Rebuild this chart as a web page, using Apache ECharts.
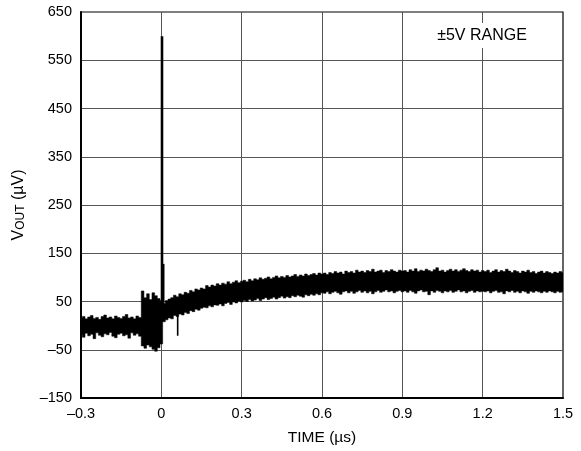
<!DOCTYPE html>
<html>
<head>
<meta charset="utf-8">
<script src="https://cdn.jsdelivr.net/npm/echarts@6/dist/echarts.min.js"></script>
<style>
  html, body { margin: 0; padding: 0; background: #fff; }
  #chart { width: 581px; height: 451px; }
</style>
</head>
<body>
<div id="chart"></div>
<script>
// Sample times of the settling record (µs)
const timeUs = [
  -0.30, -0.29, -0.28, -0.27, -0.26, -0.25, -0.24, -0.23, -0.22, -0.21,
  -0.20, -0.19, -0.18, -0.17, -0.16, -0.15, -0.14, -0.13, -0.12, -0.11,
  -0.10, -0.09, -0.08, -0.07, -0.06, -0.05, -0.04, -0.03, -0.02, -0.01,
  0.00, 0.01, 0.02, 0.03, 0.04, 0.05, 0.06, 0.07, 0.08, 0.09,
  0.10, 0.11, 0.12, 0.13, 0.14, 0.15, 0.16, 0.17, 0.18, 0.19,
  0.20, 0.21, 0.22, 0.23, 0.24, 0.25, 0.26, 0.27, 0.28, 0.29,
  0.30, 0.31, 0.32, 0.33, 0.34, 0.35, 0.36, 0.37, 0.38, 0.39,
  0.40, 0.41, 0.42, 0.43, 0.44, 0.45, 0.46, 0.47, 0.48, 0.49,
  0.50, 0.51, 0.52, 0.53, 0.54, 0.55, 0.56, 0.57, 0.58, 0.59,
  0.60, 0.61, 0.62, 0.63, 0.64, 0.65, 0.66, 0.67, 0.68, 0.69,
  0.70, 0.71, 0.72, 0.73, 0.74, 0.75, 0.76, 0.77, 0.78, 0.79,
  0.80, 0.81, 0.82, 0.83, 0.84, 0.85, 0.86, 0.87, 0.88, 0.89,
  0.90, 0.91, 0.92, 0.93, 0.94, 0.95, 0.96, 0.97, 0.98, 0.99,
  1.00, 1.01, 1.02, 1.03, 1.04, 1.05, 1.06, 1.07, 1.08, 1.09,
  1.10, 1.11, 1.12, 1.13, 1.14, 1.15, 1.16, 1.17, 1.18, 1.19,
  1.20, 1.21, 1.22, 1.23, 1.24, 1.25, 1.26, 1.27, 1.28, 1.29,
  1.30, 1.31, 1.32, 1.33, 1.34, 1.35, 1.36, 1.37, 1.38, 1.39,
  1.40, 1.41, 1.42, 1.43, 1.44, 1.45, 1.46, 1.47, 1.48, 1.49,
  1.50
];

// Upper edge of the noise band at each sample (µV)
const upperUv = [
  16, 19, 14, 18, 21, 15, 17, 13, 19, 22,
  16, 18, 14, 20, 17, 15, 19, 23, 16, 18,
  14, 20, 17,
  72, 58, 66, 54, 68, 62, 56, 52,
  46, 52, 55, 58, 63, 60, 66, 64, 69, 67,
  73, 70, 76, 74, 78, 76, 83, 80, 84, 82,
  87, 84, 88, 86, 91, 87, 90, 93, 89, 92,
  94, 91, 96, 93, 97, 95, 99, 96, 98, 101,
  97, 100, 103, 99, 102, 100, 104, 101, 103, 106,
  102, 105, 103, 107, 104, 106, 108, 105, 109, 107,
  109, 106, 110, 108, 112, 109, 111, 107, 113, 110,
  112, 109, 115, 111, 113, 110, 114, 112, 117, 111,
  113, 115, 110, 114, 112, 116, 113, 111, 115, 113,
  114, 111, 116, 113, 118, 112, 115, 113, 117, 114,
  112, 116, 120, 113, 115, 111, 114, 117, 113, 116,
  112, 115, 118, 114, 112, 116, 113, 115, 111, 114,
  112, 115, 110, 113, 116, 111, 114, 112, 117, 113,
  110, 114, 112, 109, 113, 111, 115, 110, 112, 108,
  111, 113, 109, 112, 110, 108, 111, 109, 112, 110
];

// Lower edge of the noise band at each sample (µV)
const lowerUv = [
  -19, -24, -16, -21, -18, -27, -15, -20, -23, -17,
  -19, -14, -22, -25, -18, -16, -21, -19, -26, -15,
  -20, -17, -22,
  -42, -47, -40, -44, -49, -53, -46, -38,
  8, 12, 16, 14, 21, 19, 24, 22, 27, 25,
  31, 29, 34, 32, 36, 38, 37, 41, 39, 43,
  42, 45, 41, 46, 48, 44, 49, 47, 51, 49,
  52, 50, 54, 51, 53, 56, 52, 55, 58, 54,
  56, 59, 55, 58, 61, 57, 60, 58, 62, 60,
  63, 61, 59, 64, 62, 65, 63, 66, 64, 68,
  67, 70, 66, 69, 71, 68, 65, 70, 72, 68,
  71, 67, 70, 73, 69, 72, 68, 71, 66, 70,
  73, 69, 71, 74, 70, 72, 68, 71, 73, 70,
  72, 69, 73, 70, 67, 72, 74, 70, 71, 64,
  72, 69, 73, 71, 68, 72, 70, 73, 69, 71,
  74, 70, 72, 68, 71, 73, 69, 72, 70, 71,
  70, 72, 68, 71, 73, 69, 70, 66, 72, 70,
  73, 69, 71, 68, 72, 70, 67, 71, 69, 72,
  70, 68, 71, 69, 72, 70, 68, 71, 69, 70
];

// Narrow glitches around the code transition
const spikeTimeUs = [0.0025, 0.0088, 0.061];
const spikeLowUv = [30, 30, -21];
const spikeHighUv = [600, 128, 28];

// Axis tick labels
const xTickLabels = ['\u20130.3', '0', '0.3', '0.6', '0.9', '1.2', '1.5'];
const yTickLabels = ['\u2013150', '\u201350', '50', '150', '250', '350', '450', '550', '650'];

const FONT = '"Liberation Sans", Arial, Helvetica, sans-serif';
const HALF_STEP = 0.005;

// Builds the outline of the noise band as one stepped polygon:
// along the upper edge left to right, then back along the lower edge.
function bandOutline(api) {
  const pts = [];
  for (let i = 0; i < timeUs.length; i++) {
    pts.push(api.coord([timeUs[i] - HALF_STEP, upperUv[i]]));
    pts.push(api.coord([timeUs[i] + HALF_STEP, upperUv[i]]));
  }
  for (let i = timeUs.length - 1; i >= 0; i--) {
    pts.push(api.coord([timeUs[i] + HALF_STEP, lowerUv[i]]));
    pts.push(api.coord([timeUs[i] - HALF_STEP, lowerUv[i]]));
  }
  return pts;
}

const chart = echarts.init(document.getElementById('chart'), null, { renderer: 'canvas' });

chart.setOption({
  animation: false,
  backgroundColor: '#fff',
  grid: {
    left: 81, right: 18, top: 12, bottom: 53,
    show: true, borderColor: '#000', borderWidth: 1.2, backgroundColor: '#fff'
  },
  xAxis: {
    type: 'value', min: -0.3, max: 1.5, interval: 0.3,
    axisLine: { show: true, onZero: false, lineStyle: { color: '#000', width: 2 } },
    axisTick: { show: false },
    axisLabel: {
      margin: 8, color: '#000', fontSize: 14.5, fontFamily: FONT,
      formatter: v => xTickLabels[Math.round((v + 0.3) / 0.3)] || ''
    },
    splitLine: { show: true, showMinLine: false, showMaxLine: false, lineStyle: { color: '#555', width: 1 } },
    name: 'TIME (\u00b5s)', nameLocation: 'middle', nameGap: 32,
    nameTextStyle: { color: '#000', fontSize: 15.5, fontFamily: FONT }
  },
  yAxis: {
    type: 'value', min: -150, max: 650, interval: 50,
    axisLine: { show: true, onZero: false, lineStyle: { color: '#000', width: 2 } },
    axisTick: { show: false },
    axisLabel: {
      margin: 9, color: '#000', fontSize: 14.5, fontFamily: FONT,
      formatter: v => {
        const k = Math.round((v + 150) / 50);
        return k % 2 === 0 ? (yTickLabels[k / 2] || '') : '';
      }
    },
    splitLine: {
      show: true, showMaxLine: false,
      lineStyle: { color: ['#555', 'rgba(0,0,0,0)'], width: 1 }
    },
    name: '{v|V}{s|OUT}{n| (\u00b5V)}', nameLocation: 'middle', nameGap: 54,
    nameTextStyle: {
      color: '#000', fontFamily: FONT,
      rich: {
        v: { fontSize: 16, fontFamily: FONT, color: '#000', verticalAlign: 'bottom' },
        s: { fontSize: 12, fontFamily: FONT, color: '#000', verticalAlign: 'bottom' },
        n: { fontSize: 16, fontFamily: FONT, color: '#000', verticalAlign: 'bottom' }
      }
    }
  },
  graphic: [
    {
      type: 'rect', z: 100, silent: true,
      shape: { x: 433, y: 23, width: 98, height: 25 },
      style: { fill: '#fff' }
    },
    {
      type: 'text', z: 101, silent: true, x: 482, y: 35.5,
      style: {
        text: '\u00b15V RANGE', fill: '#000',
        font: '16px "Liberation Sans", Arial, sans-serif',
        align: 'center', verticalAlign: 'middle'
      }
    }
  ],
  series: [
    {
      // Noise band: a single filled outline built from every sample
      type: 'custom', clip: true, silent: true,
      data: timeUs.map((t, i) => [t, lowerUv[i], upperUv[i]]),
      encode: { x: 0, y: [1, 2] },
      renderItem: (params, api) => {
        if (params.dataIndex !== 0) return null;
        return {
          type: 'polygon',
          shape: { points: bandOutline(api) },
          style: { fill: '#000', stroke: '#000', lineWidth: 0.5 }
        };
      }
    },
    {
      // Transition glitches drawn as thin vertical strokes
      type: 'custom', clip: true, silent: true,
      data: spikeTimeUs.map((t, i) => [t, spikeLowUv[i], spikeHighUv[i]]),
      encode: { x: 0, y: [1, 2] },
      renderItem: (params, api) => {
        const t = api.value(0), lo = api.value(1), hi = api.value(2);
        const top = api.coord([t, hi]);
        const bottom = api.coord([t, lo]);
        const w = params.dataIndex === 0 ? 2.6 : 1.6;
        return {
          type: 'rect',
          shape: { x: top[0] - w / 2, y: top[1], width: w, height: bottom[1] - top[1] },
          style: { fill: '#000' }
        };
      }
    }
  ]
});
</script>
</body>
</html>
